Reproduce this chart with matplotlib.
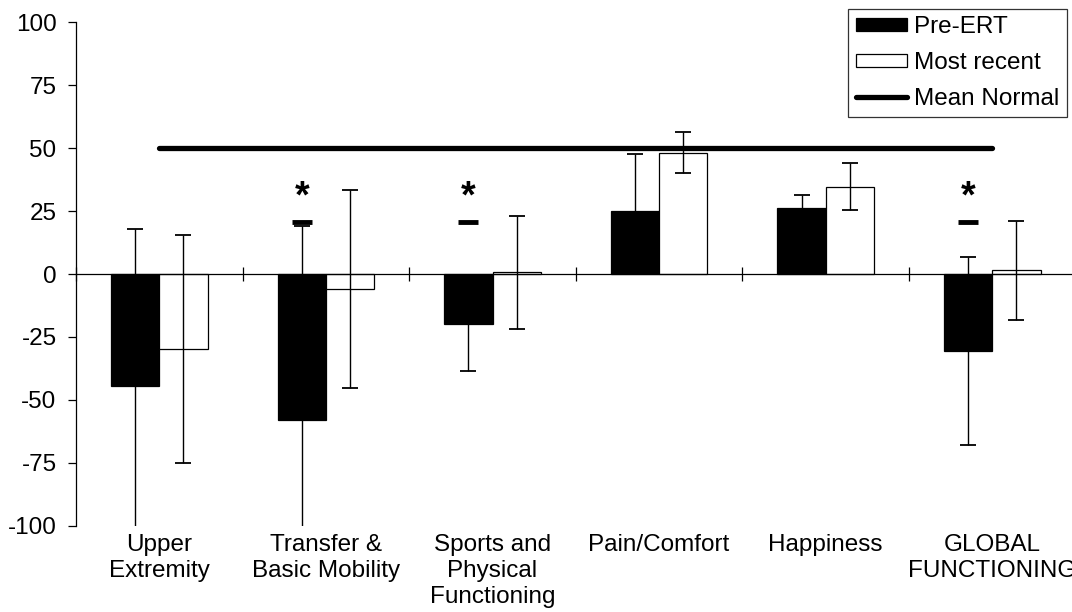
import numpy as np
import matplotlib.pyplot as plt
from matplotlib.transforms import ScaledTranslation

plt.rcParams["font.family"] = ["Liberation Sans", "DejaVu Sans"]
plt.rcParams["axes.unicode_minus"] = False

# Data
categories = [
    "Upper\nExtremity",
    "Transfer &\nBasic Mobility",
    "Sports and\nPhysical\nFunctioning",
    "Pain/Comfort",
    "Happiness",
    "GLOBAL\nFUNCTIONING",
]
pre_ert = [-44.5, -58.0, -19.9, 24.9, 26.1, -30.6]
pre_ert_err = [62.3, 77.0, 18.6, 22.8, 5.3, 37.5]
most_recent = [-29.9, -6.0, 0.6, 48.2, 34.7, 1.4]
most_recent_err = [45.3, 39.2, 22.5, 8.1, 9.3, 19.5]
mean_normal = 50
significant = [1, 2, 5]  # categories marked with *
sig_dash_level = 20.7
sig_star_level = 30.5

fs = 17.5

fig = plt.figure(figsize=(10.72, 6.12), dpi=100)
ax = fig.add_axes([76 / 1072, 1 - 525.7 / 612, 999.6 / 1072, 503.4 / 612])

x = np.arange(len(categories))
w = 0.29

bars_pre = ax.bar(x - w / 2, pre_ert, w, color="black", edgecolor="black",
                  linewidth=0.9, label="Pre-ERT", zorder=2)
bars_rec = ax.bar(x + w / 2, most_recent, w, color="white", edgecolor="black",
                  linewidth=0.9, label="Most recent", zorder=2)
ax.errorbar(x - w / 2, pre_ert, yerr=pre_ert_err, fmt="none", ecolor="black",
            elinewidth=1.0, capsize=5.5, capthick=1.3, zorder=3)
ax.errorbar(x + w / 2, most_recent, yerr=most_recent_err, fmt="none",
            ecolor="black", elinewidth=1.0, capsize=5.5, capthick=1.3, zorder=3)

# Mean normal reference line, from first to last category
line, = ax.plot([x[0], x[-1]], [mean_normal, mean_normal], color="black",
                lw=3.8, solid_capstyle="round", label="Mean Normal", zorder=4)

# Significance markers over the Pre-ERT bars
for i in significant:
    ax.hlines(sig_dash_level, x[i] - w / 2 - 0.06, x[i] - w / 2 + 0.06,
              color="black", lw=3.5, zorder=4)
    ax.text(x[i] - w / 2, sig_star_level, "*", ha="center", va="center",
            fontsize=27, fontweight="bold")

ax.set_xlim(-0.5, len(categories) - 0.5)
ax.set_ylim(-100, 100)
ax.set_yticks([100, 75, 50, 25, 0, -25, -50, -75, -100])
ax.tick_params(axis="y", direction="out", length=6, width=0.9, pad=8,
               labelsize=fs)

# x axis drawn at zero, ticks at category boundaries
ax.spines["bottom"].set_position(("data", 0))
ax.spines["bottom"].set_linewidth(0.9)
ax.spines["left"].set_linewidth(0.9)
ax.spines["top"].set_visible(False)
ax.spines["right"].set_visible(False)
ax.set_xticks(np.arange(len(categories) + 1) - 0.5)
ax.set_xticklabels([])
ax.tick_params(axis="x", direction="inout", length=10, width=0.9)

# Category labels below the plot area
offset = ScaledTranslation(0, -6 / 72, fig.dpi_scale_trans)
for i, lab in enumerate(categories):
    ax.text(x[i], -100, lab, ha="center", va="top", fontsize=fs,
            linespacing=1.22, transform=ax.transData + offset, clip_on=False)

leg = ax.legend(handles=[bars_pre, bars_rec, line], loc="upper left",
                bbox_to_anchor=(848 / 1072, 1 - 8.5 / 612),
                bbox_transform=fig.transFigure, fontsize=fs,
                frameon=True, fancybox=False, edgecolor="black",
                handlelength=2.1, handleheight=0.42, handletextpad=0.3,
                labelspacing=0.56, borderpad=0.32, borderaxespad=0)
leg.get_frame().set_linewidth(0.9)

plt.savefig("out.png", dpi=100)
plt.close()
